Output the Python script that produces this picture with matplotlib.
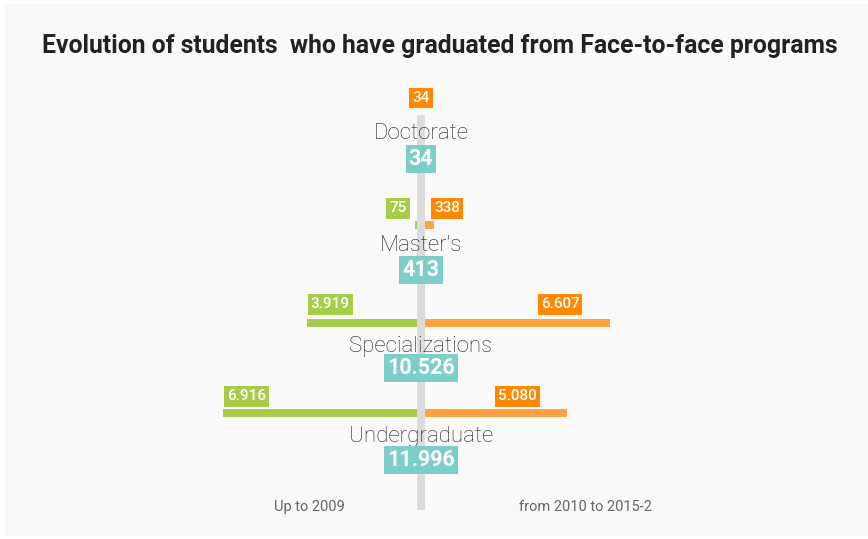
import matplotlib
matplotlib.use("Agg")
import matplotlib.pyplot as plt
from matplotlib.patches import Rectangle

# ---- data ----
categories = ["Doctorate", "Master's", "Specializations", "Undergraduate"]
up_to_2009 = [0, 75, 3919, 6916]
from_2010 = [34, 338, 6607, 5080]
totals = [34, 413, 10526, 11996]
up_label = "Up to 2009"
from_label = "from 2010 to 2015-2"
title = "Evolution of students  who have graduated from Face-to-face programs"

def fmt(v):
    return f"{v:,}".replace(",", ".")

# ---- layout ----
W, H = 868, 539
DPI = 100
S = 0.028            # px per unit
CX = 421             # center x in px
GAP = 4 / S          # half width of the central gray bar in data units

# row positions (px from top)
bar_y = [None, 224.5, 323, 412.5]
lab_y = [98, 208.5, 304.5, 396.5]
cat_base = [139, 251, 352, 442]
tot_y = [159, 270, 368, 460]

GREEN = "#a6cc4a"
ORANGE_BAR = "#ffa245"
ORANGE_LAB = "#ff8800"
TEAL = "#7dcdc8"
GRAY = "#dcdcdc"
FONT = ["Roboto", "DejaVu Sans"]

def px(x):
    return (x - CX) / S

fig = plt.figure(figsize=(W / DPI, H / DPI), dpi=DPI, facecolor="white")
ax = fig.add_axes([0, 0, 1, 1])
ax.set_xlim(px(0), px(W))
ax.set_ylim(H, 0)
ax.axis("off")

# card background
ax.add_patch(Rectangle((px(5), 4), px(W) - px(5), 532,
                       facecolor="#f9f9f9", edgecolor="none", zorder=0))

# central gray bar
ax.bar(0, 395, bottom=115, width=2 * GAP, color=GRAY, zorder=1)

BH = 8  # bar height px
lab_kw = dict(color="white", fontsize=11, fontweight="medium", family=FONT, zorder=4,
              va="center", textcoords="offset points")
for i in range(len(categories)):
    g, o = up_to_2009[i], from_2010[i]
    if bar_y[i] is not None:
        if g > 0:
            ax.barh(bar_y[i], -g, left=-GAP, height=BH, color=GREEN, zorder=2)
        ax.barh(bar_y[i], o, left=GAP, height=BH, color=ORANGE_BAR, zorder=2)
    # green label
    if g > 0:
        gx = -GAP - g
        if g * S > 50:
            ax.annotate(fmt(g), (gx, lab_y[i]), xytext=(2.5, 0), ha="left",
                        bbox=dict(boxstyle="square,pad=0.2", fc=GREEN, ec="none"), **lab_kw)
        else:
            ax.annotate(fmt(g), (gx, lab_y[i]), xytext=(-6, 0), ha="right",
                        bbox=dict(boxstyle="square,pad=0.2", fc=GREEN, ec="none"), **lab_kw)
    # orange label
    ox = GAP + o
    if o * S > 60:
        ax.annotate(fmt(o), (ox, lab_y[i]), xytext=(-22, 0), ha="right",
                    bbox=dict(boxstyle="square,pad=0.2", fc=ORANGE_LAB, ec="none"), **lab_kw)
    elif g > 0:
        ax.annotate(fmt(o), (GAP, lab_y[i]), xytext=(6.5, 0), ha="left",
                    bbox=dict(boxstyle="square,pad=0.2", fc=ORANGE_LAB, ec="none"), **lab_kw)
    else:
        ax.annotate(fmt(o), (0, lab_y[i]), xytext=(0, 0), ha="center",
                    bbox=dict(boxstyle="square,pad=0.2", fc=ORANGE_LAB, ec="none"), **lab_kw)
    # category
    ax.text(0, cat_base[i], categories[i], ha="center", va="baseline", color="#222222",
            fontsize=16, fontweight="light", family=FONT, zorder=3)
    # total
    ax.text(0, tot_y[i], fmt(totals[i]), ha="center", va="center", color="white",
            fontsize=15.5, fontweight="bold", family=FONT, zorder=4,
            bbox=dict(boxstyle="square,pad=0.14", fc=TEAL, ec="none"))

# side labels
ax.text(px(309), 507, up_label, ha="center", va="center", color="#666666",
        fontsize=10.5, family=FONT, zorder=3)
ax.text(px(585), 507, from_label, ha="center", va="center", color="#666666",
        fontsize=10.5, family=FONT, zorder=3)

# title
ax.text(px(439.5), 46, title, ha="center", va="center", color="#222222",
        fontsize=17.8, fontweight="bold", family=FONT, zorder=3)

fig.savefig("out.png", dpi=DPI, facecolor="white")
